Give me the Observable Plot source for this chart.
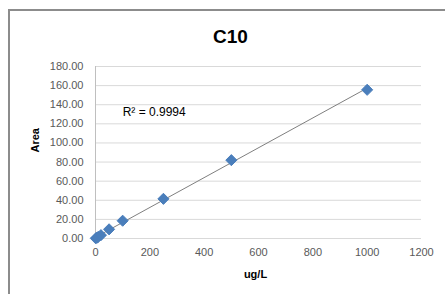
<!DOCTYPE html>
<html>
<head>
<meta charset="utf-8">
<script src="https://cdn.jsdelivr.net/npm/d3@7"></script>
<script src="https://cdn.jsdelivr.net/npm/@observablehq/plot@0.6"></script>
<style>
  html, body { margin: 0; padding: 0; background: #fff; overflow: hidden; }
  #wrap { position: relative; width: 445px; height: 294px; }
  #frame { position: absolute; left: 8px; top: 9px; width: 460px; height: 310px; border: 2px solid #8c8c8c; box-sizing: border-box; }
  #chart { position: absolute; left: 0; top: 0; }
</style>
</head>
<body>
<div id="wrap"><div id="frame"></div><div id="chart"></div></div>
<script>
const title = "C10";
const xLabel = "ug/L";
const yLabel = "Area";
const r2Label = "R² = 0.9994";
const conc = [1, 5, 10, 20, 50, 100, 250, 500, 1000];
const area = [0.2, 0.8, 1.7, 3.5, 9.6, 18.6, 41.5, 82.0, 155.6];
const xTicks = [0, 200, 400, 600, 800, 1000, 1200];
const yTicks = [0, 20, 40, 60, 80, 100, 120, 140, 160, 180];

const data = conc.map((c, i) => ({x: c, y: area[i]}));
const font = "'Liberation Sans', Arial, sans-serif";

const plot = Plot.plot({
  width: 445,
  height: 294,
  marginLeft: 95,
  marginRight: 24,
  marginTop: 66,
  marginBottom: 56,
  style: {fontFamily: font, fontSize: "11px", color: "#595959", background: "transparent"},
  x: {domain: [0, 1200], ticks: xTicks, tickSize: 0, tickPadding: 10, tickFormat: d3.format("d"), label: null},
  y: {domain: [0, 180], ticks: yTicks, tickSize: 0, tickPadding: 12, tickFormat: d3.format(".2f"), label: null},
  marks: [
    Plot.gridY(yTicks, {stroke: "#d9d9d9", strokeOpacity: 1}),
    Plot.ruleX([0], {stroke: "#bfbfbf"}),
    Plot.axisX({ticks: xTicks, tickSize: 0, tickPadding: 10, tickFormat: d3.format("d"), fill: "#595959"}),
    Plot.axisY({ticks: yTicks, tickSize: 0, tickPadding: 12, tickFormat: d3.format(".2f"), fill: "#595959"}),
    Plot.linearRegressionY(data, {x: "x", y: "y", ci: 0, stroke: "#7f7f7f", strokeWidth: 1}),
    Plot.dot(data, {x: "x", y: "y", symbol: "diamond2", r: 5, fill: "#4a7ebb", stroke: "#4a7ebb", strokeWidth: 1}),
    Plot.text([r2Label], {x: 100, y: 132, text: d => d, textAnchor: "start", fontSize: 12, fill: "#000"}),
    Plot.text([title], {frameAnchor: "top", dx: -28, dy: -37, fontSize: 19, fontWeight: "bold", fill: "#000"}),
    Plot.text([xLabel], {frameAnchor: "bottom", dx: -3, dy: 39, fontSize: 11, fontWeight: "bold", fill: "#000"}),
    Plot.text([yLabel], {frameAnchor: "left", dx: -60, rotate: -90, fontSize: 11, fontWeight: "bold", fill: "#000"})
  ]
});
document.getElementById("chart").appendChild(plot);
</script>
</body>
</html>
